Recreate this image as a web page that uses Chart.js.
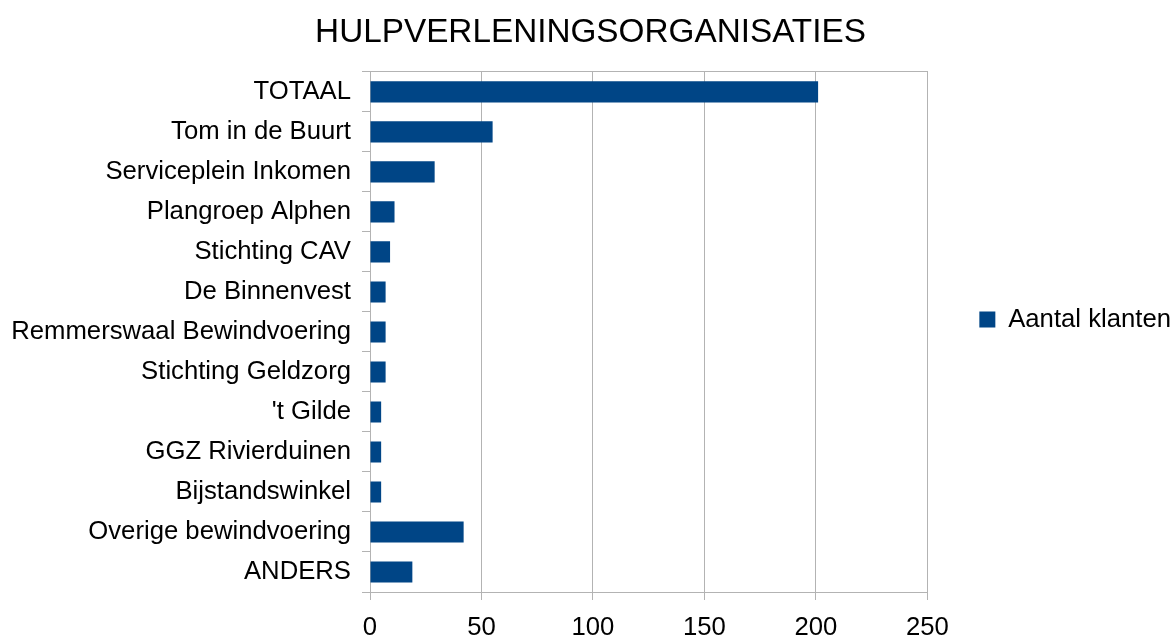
<!DOCTYPE html>
<html lang="nl">
<head>
    <meta charset="UTF-8">
    <title>Hulpverleningsorganisaties</title>
    <style>
        body {
            margin: 0;
            background: #fff;
        }
        .chart-container {
            width: 1173px;
            height: 639px;
        }
    </style>
</head>
<body>
    <div class="chart-container">
        <canvas id="orgChart"></canvas>
    </div>

    <script src="https://cdn.jsdelivr.net/npm/chart.js"></script>
    <script>
        // Data
        const categories = ['TOTAAL', 'Tom in de Buurt', 'Serviceplein Inkomen', 'Plangroep Alphen', 'Stichting CAV',
            'De Binnenvest', 'Remmerswaal Bewindvoering', 'Stichting Geldzorg', "'t Gilde", 'GGZ Rivierduinen',
            'Bijstandswinkel', 'Overige bewindvoering', 'ANDERS'];
        const klanten = [201, 55, 29, 11, 9, 7, 7, 7, 5, 5, 5, 42, 19];
        const seriesName = 'Aantal klanten';

        const gridColor = '#b3b3b3';
        const fontFamily = '"Liberation Sans", Arial, sans-serif';

        Chart.defaults.font.family = fontFamily;
        Chart.defaults.color = '#000';

        const ctx = document.getElementById('orgChart').getContext('2d');
        new Chart(ctx, {
            type: 'bar',
            data: {
                labels: categories,
                datasets: [{
                    label: seriesName,
                    data: klanten,
                    backgroundColor: '#004586',
                    borderWidth: 0,
                    categoryPercentage: 1,
                    barPercentage: 0.53
                }]
            },
            options: {
                indexAxis: 'y',
                responsive: true,
                maintainAspectRatio: false,
                animation: false,
                layout: {
                    // legend adds some room on its right, let it hang past the edge
                    padding: { left: 0, right: -8, top: 0, bottom: 0 }
                },
                plugins: {
                    title: {
                        display: true,
                        text: 'HULPVERLENINGSORGANISATIES',
                        color: '#000',
                        font: { size: 33.3, weight: 'normal', lineHeight: 1.2 },
                        padding: { top: 13, bottom: 19 }
                    },
                    legend: {
                        display: true,
                        position: 'right',
                        maxWidth: 320,
                        labels: {
                            boxWidth: 16,
                            boxHeight: 16,
                            padding: 52,
                            color: '#000',
                            font: { size: 25.7 }
                        }
                    },
                    tooltip: { enabled: false }
                },
                scales: {
                    x: {
                        min: 0,
                        max: 250,
                        ticks: {
                            stepSize: 50,
                            padding: 15,
                            font: { size: 25.7, lineHeight: 1 }
                        },
                        grid: {
                            color: gridColor,
                            lineWidth: 1,
                            tickLength: 8
                        },
                        border: { color: gridColor },
                        afterFit: function (scale) { scale.height = 47; }
                    },
                    xTop: {
                        type: 'linear',
                        position: 'top',
                        ticks: { display: false },
                        grid: { drawOnChartArea: false, drawTicks: false },
                        border: { display: true, color: gridColor },
                        afterFit: function (scale) { scale.height = 0; }
                    },
                    y: {
                        ticks: {
                            padding: 11,
                            font: { size: 25.7 }
                        },
                        grid: {
                            color: gridColor,
                            drawOnChartArea: false,
                            tickLength: 8
                        },
                        border: { color: gridColor },
                        afterFit: function (scale) { scale.width = 370; }
                    }
                }
            }
        });
    </script>
</body>
</html>
